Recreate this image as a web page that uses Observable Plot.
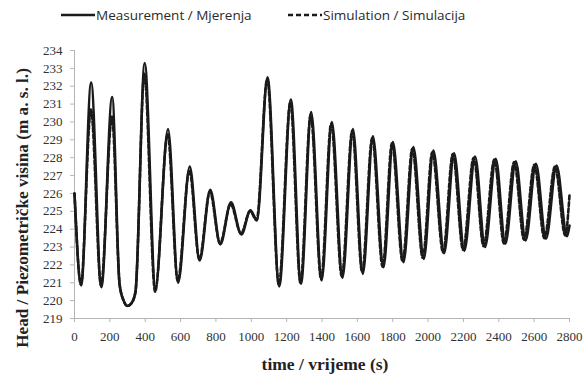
<!DOCTYPE html>
<html><head><meta charset="utf-8">
<script src="https://cdn.jsdelivr.net/npm/d3@7"></script>
<script src="https://cdn.jsdelivr.net/npm/@observablehq/plot@0.6"></script>
<style>
body{margin:0;background:#fff;width:587px;height:376px;overflow:hidden;font-family:"Liberation Serif",serif}
#legend{position:relative;height:36px;font-family:"Open Sans",sans-serif;font-size:13.5px;color:#2a2a2a}
#legend .item{position:absolute;top:6px;display:flex;align-items:center;white-space:nowrap}
#legend svg{display:block;margin-right:1px}
</style></head>
<body>
<div id="legend"></div>
<div id="chart"></div>
<script>
const timeMeas = [0, 38, 94, 152, 213, 255, 278, 300, 322, 345, 397, 458, 529, 586, 652, 708, 768, 825, 885, 944, 995, 1032, 1092, 1158, 1224, 1281, 1339, 1398, 1456, 1516, 1575, 1631, 1688, 1748, 1801, 1861, 1917, 1976, 2030, 2091, 2147, 2205, 2266, 2322, 2383, 2437, 2496, 2552, 2610, 2667, 2727, 2786, 2800];
const headMeas = [226.0, 220.85, 232.2, 220.75, 231.4, 220.9, 220.0, 219.7, 219.85, 220.5, 233.3, 220.7, 229.6, 221.0, 227.5, 222.25, 226.2, 223.15, 225.5, 223.7, 225.05, 224.5, 232.5, 220.8, 231.25, 220.95, 230.55, 221.13, 230.0, 221.28, 229.6, 221.5, 229.2, 221.87, 228.87, 222.15, 228.6, 222.34, 228.4, 222.66, 228.25, 222.8, 228.07, 223.0, 227.94, 223.18, 227.8, 223.37, 227.66, 223.46, 227.56, 223.6, 224.2];
// Simulation / Simulacija (dashed)
const timeSim = [0, 36, 93, 150, 212, 255, 278, 300, 322, 345, 395, 456, 527, 584, 650, 706, 766, 823, 883, 942, 993, 1030, 1090, 1156, 1221, 1278, 1336, 1395, 1452, 1512, 1571, 1627, 1684, 1743, 1796, 1856, 1911, 1970, 2024, 2085, 2140, 2198, 2258, 2314, 2375, 2429, 2487, 2543, 2601, 2658, 2718, 2776, 2800];
const headSim = [226.0, 220.9, 230.7, 220.85, 230.3, 220.95, 220.0, 219.7, 219.85, 220.5, 232.7, 220.5, 229.3, 221.1, 227.3, 222.3, 226.1, 223.2, 225.4, 223.75, 225.0, 224.5, 232.4, 220.9, 231.1, 221.0, 230.4, 221.2, 229.9, 221.35, 229.5, 221.6, 229.1, 221.9, 228.8, 222.2, 228.5, 222.4, 228.3, 222.7, 228.2, 222.85, 228.0, 223.05, 227.9, 223.2, 227.75, 223.4, 227.6, 223.5, 227.5, 223.65, 225.9];

const xTicks = [0, 200, 400, 600, 800, 1000, 1200, 1400, 1600, 1800, 2000, 2200, 2400, 2600, 2800];
const yTicks = [219, 220, 221, 222, 223, 224, 225, 226, 227, 228, 229, 230, 231, 232, 233, 234];
const seriesNames = ["Measurement / Mjerenja", "Simulation / Simulacija"];
const xTitle = "time / vrijeme (s)";
const yTitle = "Head / Piezometričke visina (m a. s. l.)";

const meas = timeMeas.map((t, i) => ({t, v: headMeas[i]}));
const sim = timeSim.map((t, i) => ({t, v: headSim[i]}));

// legend
const legend = document.getElementById("legend");
const legendItems = [
  {name: seriesNames[0], left: 61, dash: null},
  {name: seriesNames[1], left: 288, dash: "5,3"}
];
for (const it of legendItems) {
  const d = document.createElement("div");
  d.className = "item";
  d.style.left = it.left + "px";
  d.innerHTML = `<svg width="34" height="10"><line x1="0" x2="34" y1="5" y2="5" stroke="#1a1a1a" stroke-width="2.6" ${it.dash ? `stroke-dasharray="${it.dash}"` : ""}/></svg><span>${it.name}</span>`;
  legend.appendChild(d);
}

const plot = Plot.plot({
  width: 587, height: 340,
  marginLeft: 74, marginRight: 18, marginTop: 14, marginBottom: 58,
  x: {domain: [0, 2800]},
  y: {domain: [219, 234]},
  style: {fontFamily: "'Liberation Serif', serif", fontSize: "13px", background: "#fff"},
  marks: [
    Plot.ruleY([219], {stroke: "#b5b5b5"}),
    Plot.ruleX([0], {stroke: "#b5b5b5"}),
    Plot.axisX({ticks: xTicks, tickFormat: d => String(d), tickSize: 4, tickPadding: 9, stroke: "#b5b5b5", fill: "#333", label: null, fontSize: 13}),
    Plot.axisY({ticks: yTicks, tickFormat: d => String(d), tickSize: 4, tickPadding: 8, stroke: "#b5b5b5", fill: "#333", label: null, fontSize: 13}),
    Plot.line(meas, {x: "t", y: "v", curve: "monotone-x", stroke: "#1a1a1a", strokeWidth: 2.6}),
    Plot.line(sim, {x: "t", y: "v", curve: "monotone-x", stroke: "#1a1a1a", strokeWidth: 2.6, strokeDasharray: "4,2.5"})
  ]
});
document.getElementById("chart").appendChild(plot);

const svg = d3.select(plot);
svg.append("text").attr("x", 325).attr("y", 334).attr("text-anchor", "middle")
  .attr("font-family", "'Liberation Serif', serif").attr("font-weight", "bold").attr("font-size", 17.5).attr("fill", "#222")
  .text(xTitle);
svg.append("text").attr("transform", "translate(28,172) rotate(-90)").attr("text-anchor", "middle")
  .attr("font-family", "'Liberation Serif', serif").attr("font-weight", "bold").attr("font-size", 17.2).attr("fill", "#222")
  .text(yTitle);
</script>
</body></html>
